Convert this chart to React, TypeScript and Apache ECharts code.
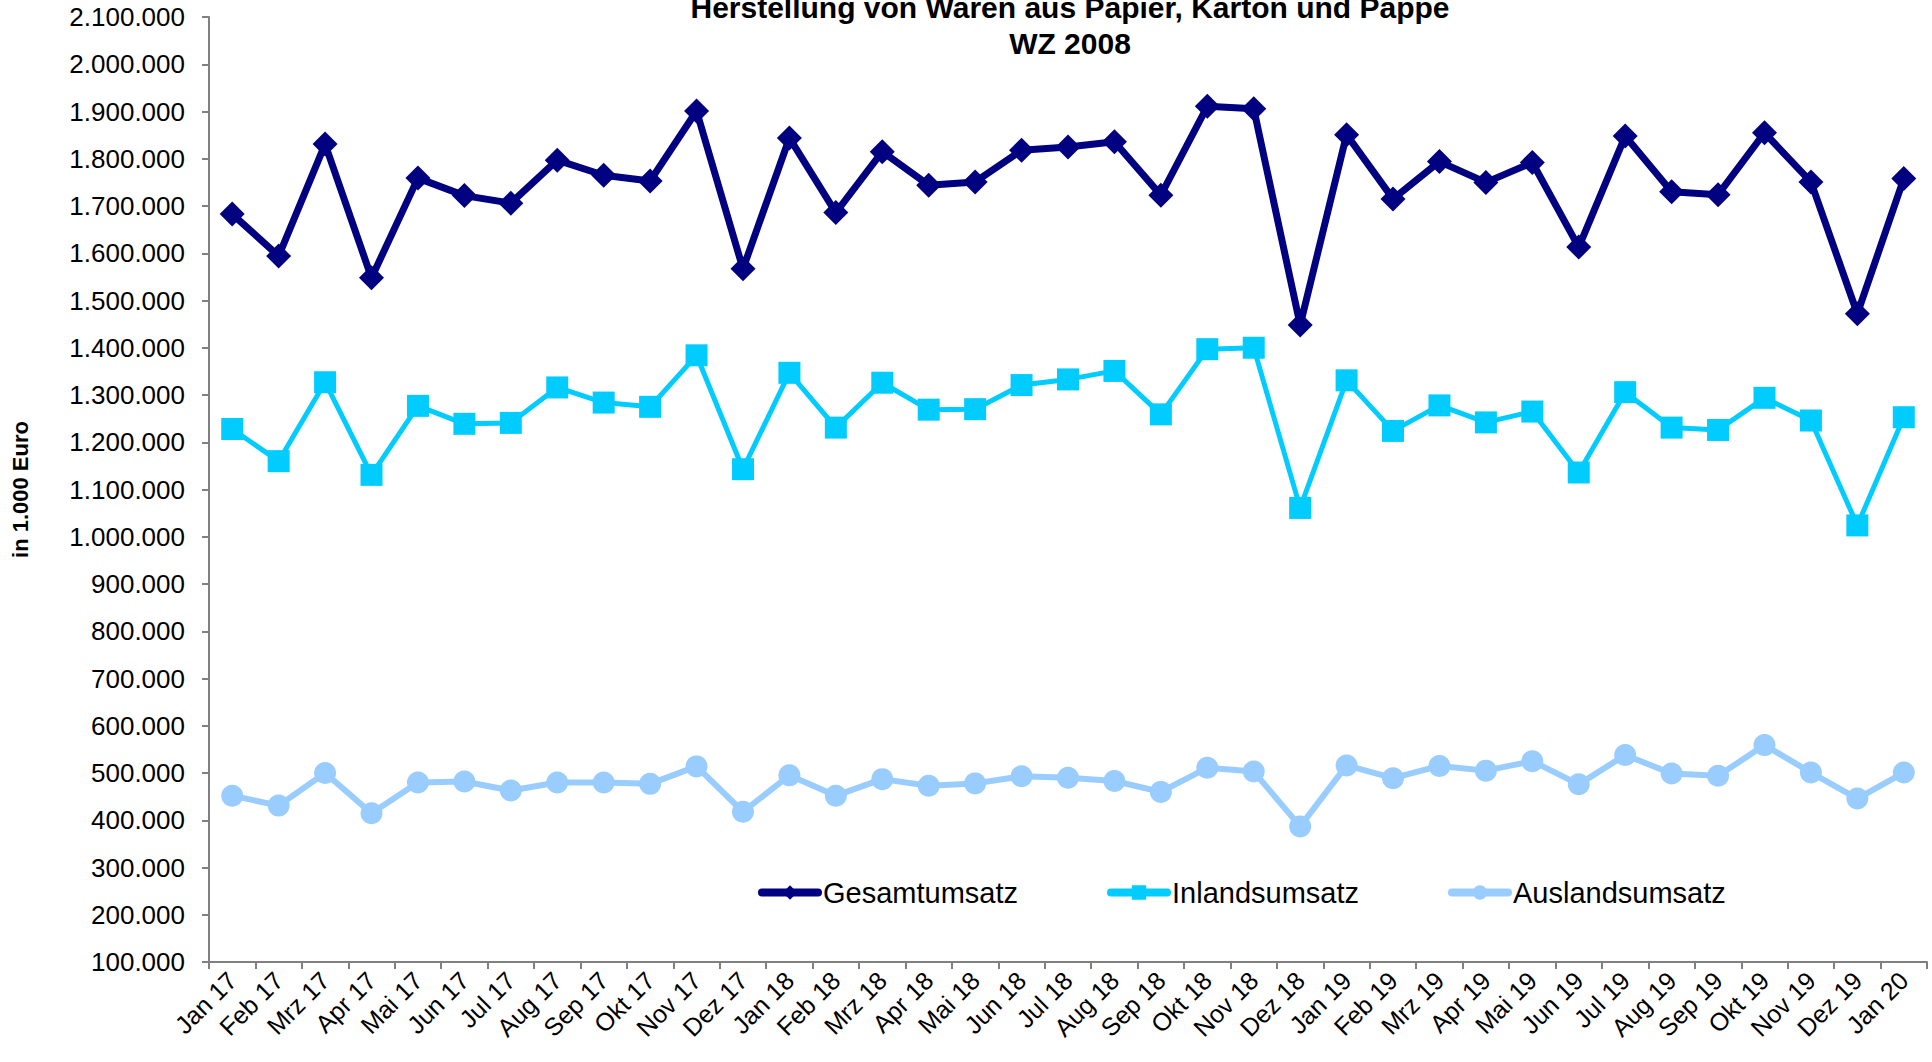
import React, { useEffect, useRef } from 'react';
import * as echarts from 'echarts';

const categories = [
  'Jan 17', 'Feb 17', 'Mrz 17', 'Apr 17', 'Mai 17', 'Jun 17', 'Jul 17', 'Aug 17', 'Sep 17', 'Okt 17', 'Nov 17', 'Dez 17',
  'Jan 18', 'Feb 18', 'Mrz 18', 'Apr 18', 'Mai 18', 'Jun 18', 'Jul 18', 'Aug 18', 'Sep 18', 'Okt 18', 'Nov 18', 'Dez 18',
  'Jan 19', 'Feb 19', 'Mrz 19', 'Apr 19', 'Mai 19', 'Jun 19', 'Jul 19', 'Aug 19', 'Sep 19', 'Okt 19', 'Nov 19', 'Dez 19',
  'Jan 20',
];

const gesamtumsatz = [
  1683000, 1594000, 1831000, 1548000, 1759000, 1722000, 1706000, 1797000, 1765000, 1753000, 1901000, 1567000,
  1844000, 1686000, 1815000, 1744000, 1751000, 1818000, 1825000, 1836000, 1723000, 1911000, 1906000, 1448000,
  1851000, 1715000, 1794000, 1750000, 1792000, 1613000, 1848000, 1730000, 1724000, 1855000, 1751000, 1472000,
  1758000,
];

const inlandsumsatz = [
  1228000, 1160000, 1327000, 1131000, 1277000, 1239000, 1241000, 1316000, 1284000, 1275000, 1384000, 1143000,
  1347000, 1231000, 1326000, 1269000, 1270000, 1321000, 1333000, 1351000, 1259000, 1397000, 1400000, 1061000,
  1331000, 1224000, 1278000, 1242000, 1265000, 1136000, 1306000, 1231000, 1226000, 1294000, 1246000, 1024000,
  1253000,
];

const auslandsumsatz = [
  452000, 431000, 500000, 415000, 480000, 482000, 463000, 480000, 480000, 477000, 514000, 418000,
  495000, 452000, 487000, 473000, 478000, 493000, 490000, 483000, 460000, 511000, 503000, 387000,
  516000, 489000, 515000, 505000, 525000, 476000, 538000, 499000, 494000, 559000, 501000, 446000,
  501000,
];

const yMin = 100000;
const yMax = 2100000;
const yStep = 100000;

const titleLines = ['Herstellung von Waren aus Papier, Karton und Pappe', 'WZ 2008'];
const yAxisName = 'in 1.000 Euro';
const seriesNames = ['Gesamtumsatz', 'Inlandsumsatz', 'Auslandsumsatz'];

const FONT = '"Liberation Sans", Arial, sans-serif';

function fmt(v: number): string {
  return String(Math.round(v)).replace(/\B(?=(\d{3})+(?!\d))/g, '.');
}

export default function App() {
  const ref = useRef<HTMLDivElement>(null);
  useEffect(() => {
    document.body.style.margin = '0';
    const chart = echarts.init(ref.current!, null, { renderer: 'svg' });
    const axisColor = '#808080';
    chart.setOption({
      animation: false,
      backgroundColor: '#ffffff',
      textStyle: { fontFamily: FONT },
      grid: { left: 209, right: 5, top: 17, bottom: 100, containLabel: false },
      graphic: [
        {
          type: 'text',
          x: 1070,
          y: 7,
          style: {
            text: titleLines[0],
            fontSize: 30,
            fontWeight: 'bold',
            fontFamily: FONT,
            fill: '#000',
            align: 'center',
            verticalAlign: 'middle',
          },
        },
        {
          type: 'text',
          x: 1070,
          y: 43,
          style: {
            text: titleLines[1],
            fontSize: 30,
            fontWeight: 'bold',
            fontFamily: FONT,
            fill: '#000',
            align: 'center',
            verticalAlign: 'middle',
          },
        },
      ],
      legend: {
        data: seriesNames,
        left: 758,
        top: 878,
        padding: 0,
        itemWidth: 56,
        itemHeight: 18,
        itemGap: 89,
        textStyle: { fontSize: 29, color: '#000', fontFamily: FONT },
        lineStyle: { width: 8, cap: 'round' },
      },
      xAxis: {
        type: 'category',
        data: categories,
        boundaryGap: true,
        axisLine: { show: true, lineStyle: { color: axisColor, width: 2 } },
        axisTick: { show: true, length: 7, interval: 0, lineStyle: { color: axisColor, width: 2 } },
        axisLabel: {
          interval: 0,
          rotate: 45,
          fontSize: 25,
          color: '#000',
          fontFamily: FONT,
          margin: 14,
        },
        splitLine: { show: false },
      },
      yAxis: {
        type: 'value',
        min: yMin,
        max: yMax,
        interval: yStep,
        name: yAxisName,
        nameLocation: 'middle',
        nameGap: 178,
        nameTextStyle: { fontSize: 22, fontWeight: 'bold', color: '#000', fontFamily: FONT },
        axisLine: { show: true, lineStyle: { color: axisColor, width: 2 } },
        axisTick: { show: true, length: 7, lineStyle: { color: axisColor, width: 2 } },
        axisLabel: { fontSize: 26, color: '#000', fontFamily: FONT, margin: 24, formatter: fmt },
        splitLine: { show: false },
      },
      series: [
        {
          name: seriesNames[0],
          type: 'line',
          data: gesamtumsatz,
          symbol: 'diamond',
          symbolSize: 25,
          color: '#000080',
          lineStyle: { width: 7, color: '#000080' },
          itemStyle: { color: '#000080' },
          z: 3,
        },
        {
          name: seriesNames[1],
          type: 'line',
          data: inlandsumsatz,
          symbol: 'rect',
          symbolSize: 22,
          color: '#00CCFF',
          lineStyle: { width: 5, color: '#00CCFF' },
          itemStyle: { color: '#00CCFF' },
          z: 2,
        },
        {
          name: seriesNames[2],
          type: 'line',
          data: auslandsumsatz,
          symbol: 'circle',
          symbolSize: 22,
          color: '#99CCFF',
          lineStyle: { width: 6, color: '#99CCFF' },
          itemStyle: { color: '#99CCFF' },
          z: 2,
        },
      ],
    });
    return () => chart.dispose();
  }, []);
  return <div ref={ref} style={{ width: 1932, height: 1062 }} />;
}
